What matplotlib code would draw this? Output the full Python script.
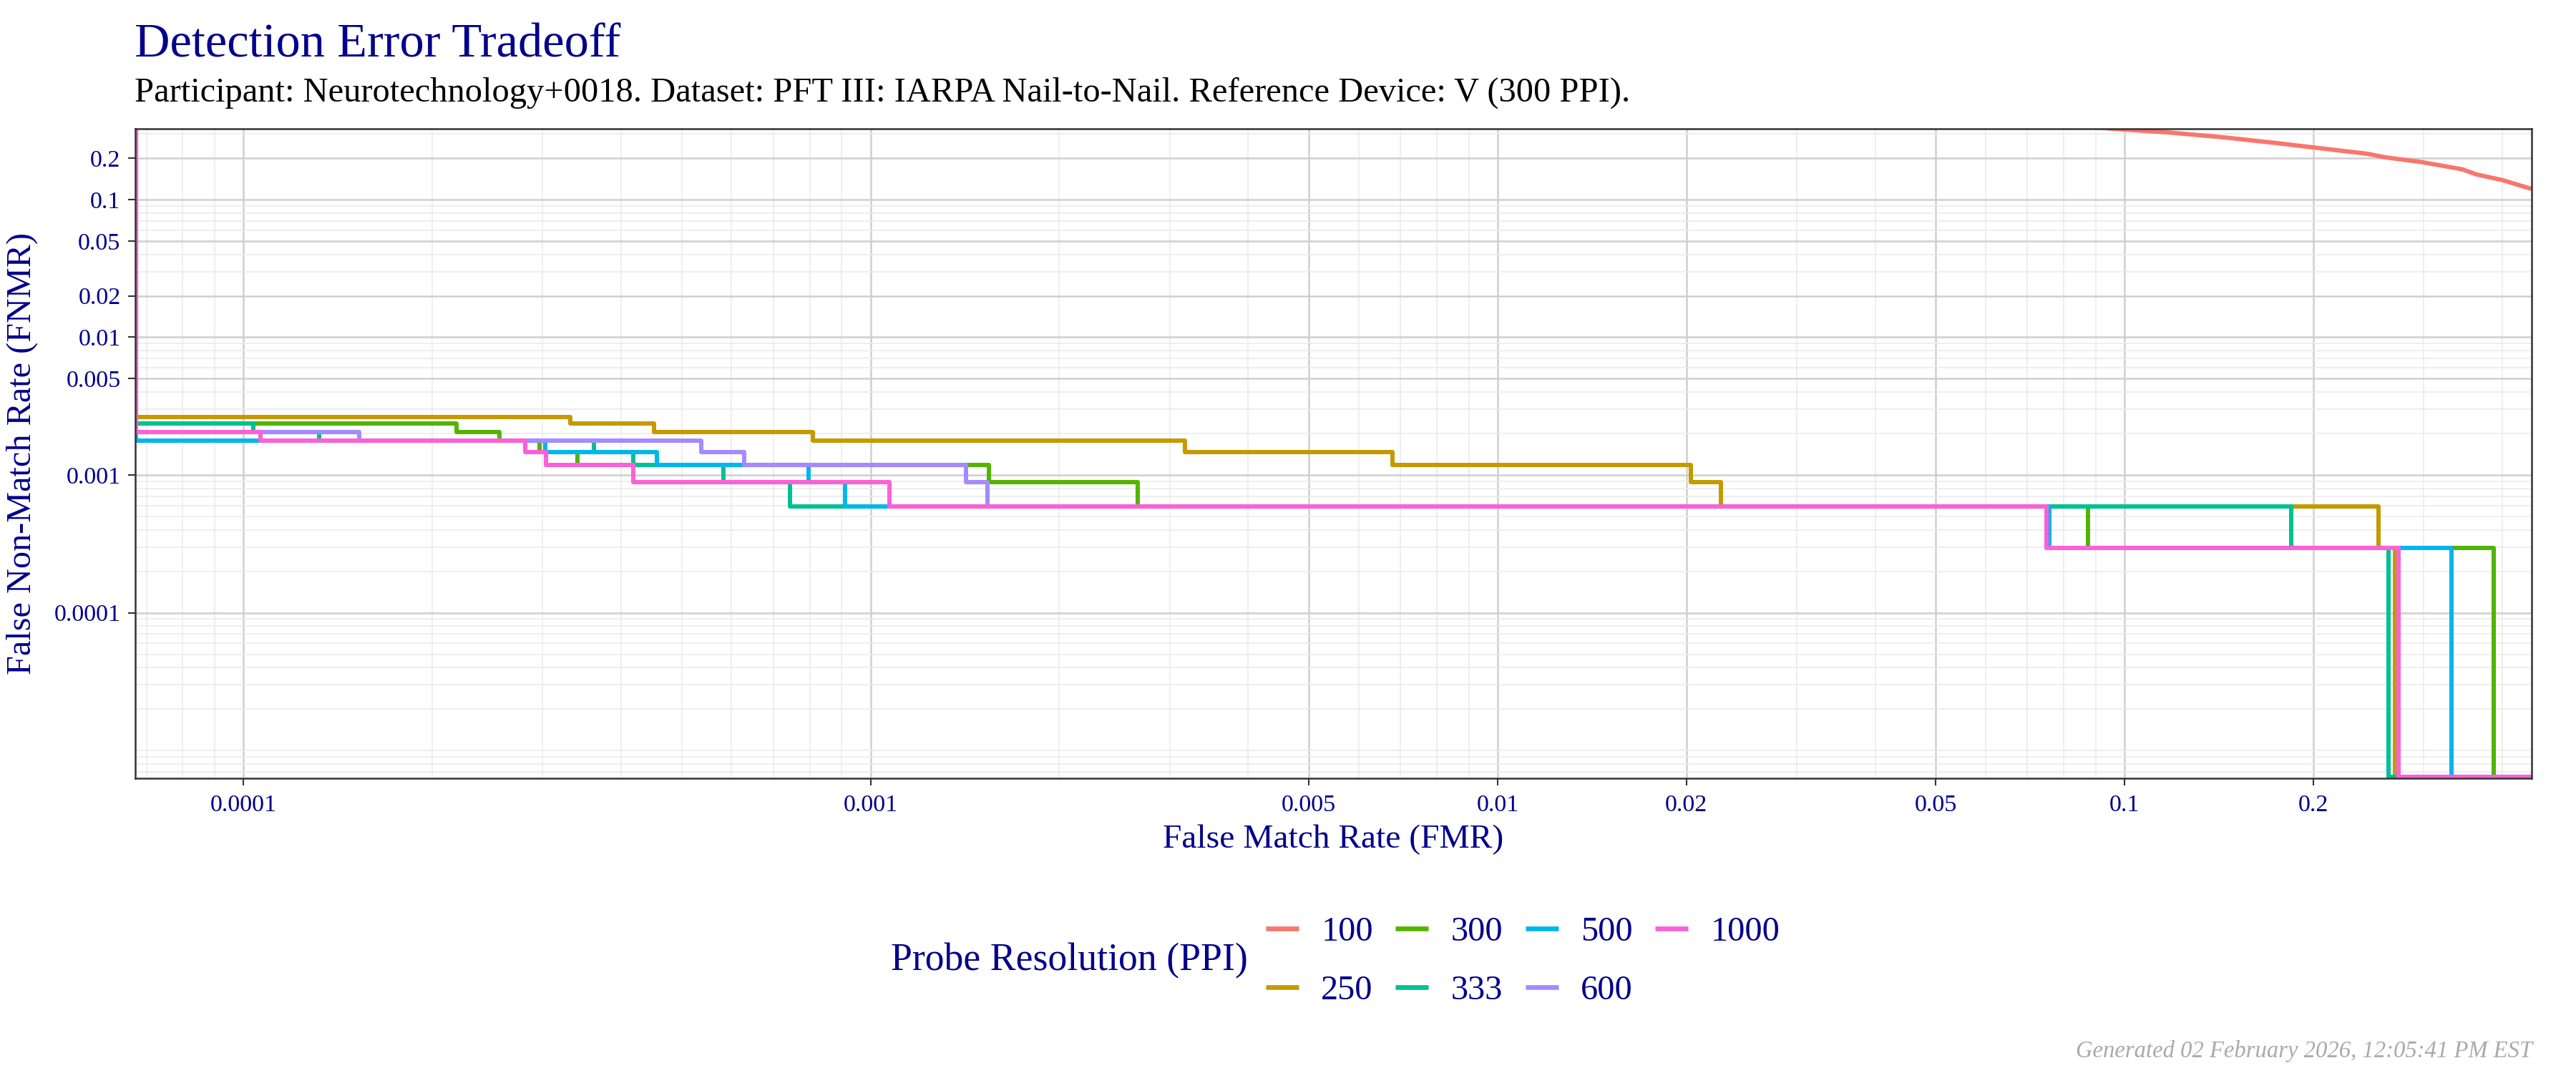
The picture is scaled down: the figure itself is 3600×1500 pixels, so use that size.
import numpy as np
import matplotlib
matplotlib.use("Agg")
import matplotlib.pyplot as plt
from matplotlib.ticker import FixedLocator, FixedFormatter, LogLocator, NullFormatter

# ---------------- data ----------------
resolutions = ["100", "250", "300", "333", "500", "600", "1000"]
colors = ["#F8766D", "#C49A00", "#53B400", "#00C094", "#00B6EB", "#A58AFF", "#FB61D7"]

# 100 PPI: smooth curve in the upper right
fmr_100 = [0.090, 0.0954, 0.1166, 0.1426, 0.1743, 0.1993, 0.2436, 0.2605, 0.2979,
           0.3452, 0.3643, 0.4000, 0.4423, 0.4460]
fnmr_100 = [0.335, 0.3266, 0.3078, 0.2841, 0.2573, 0.2394, 0.2150, 0.2025, 0.1869,
            0.1659, 0.1520, 0.1386, 0.1207, 0.1195]

# step curves: FMR breakpoint, FNMR from that breakpoint on
fmr_250 = [6.74e-5, 6.74e-5, 3.32e-4, 4.51e-4, 8.10e-4, 3.17e-3, 6.80e-3, 0.02034, 0.0227,
           0.2542, 0.2697, 0.4457]
fnmr_250 = [1.0, 0.00265, 0.00236, 0.00206, 0.00177, 0.00147, 0.00118, 0.000885, 0.00059,
            0.000295, 6.4e-6, 6.4e-6]

fmr_300 = [6.74e-5, 6.74e-5, 2.186e-4, 2.559e-4, 2.965e-4, 3.407e-4, 1.543e-3, 2.671e-3,
           0.0873, 0.3877, 0.4457]
fnmr_300 = [1.0, 0.00236, 0.00206, 0.00177, 0.00147, 0.00118, 0.000885, 0.00059,
            0.000295, 6.4e-6, 6.4e-6]

fmr_333 = [6.74e-5, 6.74e-5, 1.036e-4, 1.3205e-4, 3.624e-4, 4.179e-4, 5.823e-4, 7.446e-4,
           0.1842, 0.2638, 0.4457]
fnmr_333 = [1.0, 0.00236, 0.00206, 0.00177, 0.00147, 0.00118, 0.000885, 0.00059,
            0.000295, 6.4e-6, 6.4e-6]

fmr_500 = [6.74e-5, 6.74e-5, 3.025e-4, 4.56e-4, 7.96e-4, 9.105e-4, 0.0759, 0.332, 0.4457]
fnmr_500 = [1.0, 0.00177, 0.00147, 0.00118, 0.000885, 0.00059, 0.000295, 6.4e-6, 6.4e-6]

fmr_600 = [6.74e-5, 6.74e-5, 1.530e-4, 5.373e-4, 6.28e-4, 1.418e-3, 1.536e-3, 0.0750,
           0.2736, 0.4457]
fnmr_600 = [1.0, 0.00206, 0.00177, 0.00147, 0.00118, 0.000885, 0.00059, 0.000295,
            6.4e-6, 6.4e-6]

fmr_1000 = [6.74e-5, 6.74e-5, 1.064e-4, 2.811e-4, 3.040e-4, 4.179e-4, 1.0727e-3, 0.07497,
            0.2736, 0.4457]
fnmr_1000 = [1.0, 0.00206, 0.00177, 0.00147, 0.00118, 0.000885, 0.00059, 0.000295,
             6.4e-6, 6.4e-6]

x_ticks = [0.0001, 0.001, 0.005, 0.01, 0.02, 0.05, 0.1, 0.2]
x_tick_labels = ["0.0001", "0.001", "0.005", "0.01", "0.02", "0.05", "0.1", "0.2"]
y_ticks = [0.0001, 0.001, 0.005, 0.01, 0.02, 0.05, 0.1, 0.2]
y_tick_labels = ["0.0001", "0.001", "0.005", "0.01", "0.02", "0.05", "0.1", "0.2"]

title = "Detection Error Tradeoff"
subtitle = ("Participant: Neurotechnology+0018. Dataset: PFT III: IARPA Nail-to-Nail. "
            "Reference Device: V (300 PPI).")
x_label = "False Match Rate (FMR)"
y_label = "False Non-Match Rate (FNMR)"
legend_title = "Probe Resolution (PPI)"
footer = "Generated 02 February 2026, 12:05:41 PM EST"

# ---------------- style ----------------
plt.rcParams['font.family'] = ['Liberation Serif', 'DejaVu Serif']
NAVY = "#00008B"
W, H = 3600, 1500
fig = plt.figure(figsize=(12, 5), dpi=300)
fig.patch.set_facecolor("white")

L, R, T, B = 189, 3538, 180, 1088
ax = fig.add_axes([L / W, 1 - B / H, (R - L) / W, (B - T) / H])
ax.set_facecolor("white")

ax.set_xscale("log")
ax.set_yscale("log")
ax.set_xlim(6.72e-5, 0.4457)
ax.set_ylim(6.28e-6, 0.3265)

# grid
ax.xaxis.set_major_locator(FixedLocator(x_ticks))
ax.xaxis.set_major_formatter(FixedFormatter(x_tick_labels))
ax.yaxis.set_major_locator(FixedLocator(y_ticks))
ax.yaxis.set_major_formatter(FixedFormatter(y_tick_labels))
ax.xaxis.set_minor_locator(LogLocator(base=10, subs=np.arange(1, 10), numticks=100))
ax.yaxis.set_minor_locator(LogLocator(base=10, subs=np.arange(1, 10), numticks=100))
ax.xaxis.set_minor_formatter(NullFormatter())
ax.yaxis.set_minor_formatter(NullFormatter())
ax.grid(which="minor", color="#EBEBEB", linewidth=0.4)
ax.grid(which="major", color="#CFCFCF", linewidth=0.6)
ax.set_axisbelow(True)

ax.tick_params(which="minor", length=0)
ax.tick_params(which="major", length=2.5, width=0.5, color="#333333",
               labelsize=8.2, labelcolor=NAVY)
ax.tick_params(axis="x", which="major", pad=2.8)
ax.tick_params(axis="y", which="major", pad=2.4)
for s in ax.spines.values():
    s.set_color("#333333")
    s.set_linewidth(0.6)

# curves
line_kw = dict(linewidth=1.45, solid_joinstyle="round", solid_capstyle="butt")
handles = []
h, = ax.plot(fmr_100, fnmr_100, color=colors[0], **line_kw)
handles.append(h)
step_series = [(fmr_250, fnmr_250), (fmr_300, fnmr_300), (fmr_333, fnmr_333),
               (fmr_500, fnmr_500), (fmr_600, fnmr_600), (fmr_1000, fnmr_1000)]
for (fx, fy), c in zip(step_series, colors[1:]):
    h, = ax.step(fx, fy, where="post", color=c, **line_kw)
    handles.append(h)

# axis labels
ax.set_xlabel(x_label, fontsize=11.4, color=NAVY)
ax.xaxis.set_label_coords(0.5, (B - 1185) / (B - T))
ax.xaxis.label.set_va("baseline")
ax.set_ylabel(y_label, fontsize=11.6, color=NAVY)
ax.yaxis.set_label_coords((31 - L) / (R - L), 0.5)
ax.yaxis.label.set_va("center")

# title / subtitle
fig.text(188 / W, 1 - 79 / H, title, fontsize=16.45, color=NAVY, va="baseline", ha="left")
fig.text(188 / W, 1 - 141.7 / H, subtitle, fontsize=11.63, color="black",
         va="baseline", ha="left")

# legend
fig.text(1244.6 / W, 1 - 1356.7 / H, legend_title, fontsize=12.9, color=NAVY,
         va="baseline", ha="left")
leg = fig.legend(handles, resolutions, ncol=4, loc="center left",
                 bbox_to_anchor=(1769 / W, 1 - 1344 / H), frameon=False,
                 fontsize=11.6, handlelength=0.95, handletextpad=0.65,
                 columnspacing=0.65, labelspacing=0.8, borderpad=0, borderaxespad=0)
for t in leg.get_texts():
    t.set_color(NAVY)
for lh in leg.get_lines():
    lh.set_linewidth(1.6)

# footer
fig.text(3539 / W, 1 - 1478 / H, footer, fontsize=7.85, color="#AAAAAA", style="italic",
         ha="right", va="baseline")

fig.savefig("out.png", dpi=300)
